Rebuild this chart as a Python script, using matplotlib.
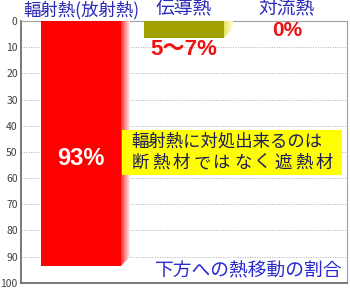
import matplotlib.pyplot as plt
import numpy as np
from matplotlib.colors import LinearSegmentedColormap
from matplotlib.patches import Polygon

plt.rcParams['font.family'] = ['Noto Sans CJK JP', 'DejaVu Sans']

# データ
categories = ['輻射熱(放射熱)', '伝導熱', '対流熱']
values = [93.6, 6.4, 0]
value_labels = ['93%', '5〜7%', '0%']
bar_colors = ['#ff0000', '#a0a000', '#a0a000']
side_colors = [('#ff3030', '#fff0f0'), ('#e4e460', '#ffffe0'), ('#e4e460', '#ffffe0')]
yticks = list(range(0, 101, 10))
note_lines = ['輻射熱に対処出来るのは', '断熱材ではなく遮熱材']
caption = '下方への熱移動の割合'

fig = plt.figure(figsize=(3.5, 2.88), dpi=100)
ax = fig.add_axes([20.5 / 350, 5.3 / 288, 326.5 / 350, 261.7 / 288])

x = np.arange(len(categories))
width = 0.777
ax.bar(x, values, width=width, color=bar_colors, zorder=3)

# 3Dっぽい側面（グラデーション）
dx, dy = 0.087, 3.5
for xi, v, (c1, c2) in zip(x, values, side_colors):
    if v <= 0:
        continue
    xr = xi + width / 2
    poly = Polygon([(xr, -5), (xr + dx, -5), (xr + dx, v - dy), (xr, v)],
                   closed=True, facecolor='none', edgecolor='none')
    ax.add_patch(poly)
    cmap = LinearSegmentedColormap.from_list('side', [c1, c2])
    grad = np.linspace(0, 1, 64).reshape(1, -1)
    im = ax.imshow(grad, cmap=cmap, aspect='auto', extent=(xr, xr + dx, v, -5),
                   zorder=3, interpolation='bilinear')
    im.set_clip_path(poly)

ax.set_xlim(-0.587, 2.583)
ax.set_ylim(100, 0)
ax.set_yticks(yticks)
ax.set_xticks([])
ax.tick_params(axis='y', length=0, labelsize=7.5, labelcolor='#404040', pad=2)
ax.grid(axis='y', linestyle=(0, (1, 1.5)), color='#b0b0b0', linewidth=0.7, zorder=1)
for s in ['top', 'right']:
    ax.spines[s].set_color('#a0a0a0')
    ax.spines[s].set_linewidth(0.8)
for s in ['left', 'bottom']:
    ax.spines[s].set_color('#707070')
    ax.spines[s].set_linewidth(1.3)

# カテゴリ名（上部）
tr = ax.get_xaxis_transform()
for xi, name in zip(x, categories):
    fs = 12.5 if len(name) > 3 else 13.5
    ax.text(xi, 1.005, name, transform=tr, ha='center', va='bottom',
            fontsize=fs, color='#2a2ab8')

# 値ラベル
numfont = ['Liberation Sans', 'Noto Sans CJK JP']
ax.text(0, 52.5, value_labels[0], ha='center', va='center', fontsize=17,
        fontweight='bold', color='white', family=numfont, zorder=5)
ax.text(1, 11.0, value_labels[1], ha='center', va='center', fontsize=16,
        fontweight='bold', color='#ee1111', family=numfont, zorder=5)
ax.text(2, 3.8, value_labels[2], ha='center', va='center', fontsize=15,
        fontweight='bold', color='#ee1111', family=numfont, zorder=5)

# 黄色い注記ボックス
box = plt.Rectangle((0.398, 41.5), 2.534 - 0.398, 58.7 - 41.5,
                    facecolor='#ffff00', edgecolor='none', zorder=4)
ax.add_patch(box)
ax.text(0.49, 46.0, note_lines[0], ha='left', va='center', fontsize=12.5,
        color='#1c1c5c', zorder=5)
# 2行目は1行目と同じ幅に均等配置
x0, x1 = 0.49 + 0.09, 2.45 - 0.09
for i, ch in enumerate(note_lines[1]):
    xc = x0 + (x1 - x0) * i / (len(note_lines[1]) - 1)
    ax.text(xc, 54.3, ch, ha='center', va='center', fontsize=12.5,
            color='#1c1c5c', zorder=5)

ax.text(2.54, 95.3, caption, ha='right', va='center', fontsize=13.5,
        color='#2a2ad0', zorder=5)

fig.savefig('out.png', dpi=100)
